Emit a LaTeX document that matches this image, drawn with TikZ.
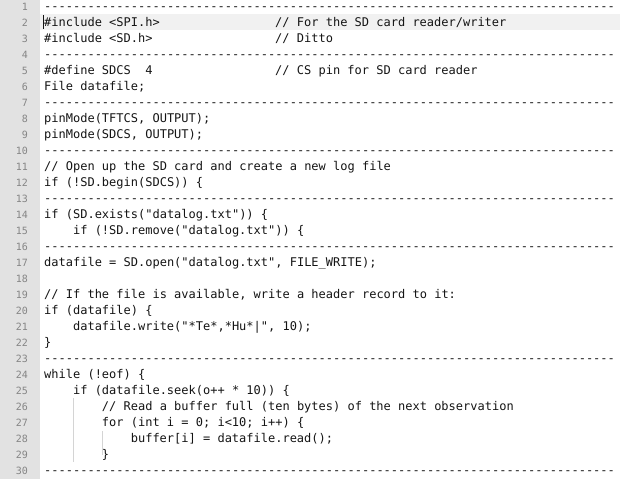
\documentclass[tikz,border=0pt]{standalone}
\usepackage{fontspec}
\setmonofont{DejaVu Sans Mono}

\definecolor{gutter}{HTML}{E2E2E2}
\definecolor{curline}{HTML}{F1F1F1}
\definecolor{guide}{HTML}{D4D4D4}
\definecolor{ink}{HTML}{141414}
\definecolor{lnum}{HTML}{858585}
\newcommand{\dashrow}{-------------------------------------------------------------------------------}

\begin{document}
\begin{tikzpicture}[x=1pt,y=1pt,
                    code/.style={anchor=base west,inner sep=0pt,text=ink,font=\ttfamily\fontsize{12}{14}\selectfont},
                    lno/.style={anchor=base east,inner sep=0pt,text=lnum,font=\ttfamily\fontsize{10}{12}\selectfont},
                    src/.style={shift={(44pt,-10.5pt)},x=7.22pt,y=-16pt}]

\useasboundingbox (0,0) rectangle (620,-479);
\clip (0,0) rectangle (620,-479);
\fill[gutter] (0,0) rectangle (40,-479);
\fill[curline] (40,-14) rectangle (620,-30);
\draw[guide] (73,-398) -- (73,-462);
\draw[guide] (102,-431) -- (102,-455);
\draw[ink,line width=0.8pt] (43.5,-15) -- (43.5,-29);

\foreach \n in {1,...,30}
  \node[lno] (num\n) at (28,{-10.5-16*(\n-1)}) {\n};

\begin{scope}[src]
\foreach \r in {1,4,7,10,13,16,23,30}
  \node[code] (rule\r) at (0,\r-1) {\dashrow};
\node[code] (l2) at (0,1) {\#include <SPI.h>};
\node[code] (c2) at (32,1) {// For the SD card reader/writer};
\node[code] (l3) at (0,2) {\#include <SD.h>};
\node[code] (c3) at (32,2) {// Ditto};
\node[code] (l5) at (0,4) {\#define SDCS\ \ 4};
\node[code] (c5) at (32,4) {// CS pin for SD card reader};
\node[code] (l6) at (0,5) {File datafile;};
\node[code] (l8) at (0,7) {pinMode(TFTCS, OUTPUT);};
\node[code] (l9) at (0,8) {pinMode(SDCS, OUTPUT);};
\node[code] (l11) at (0,10) {// Open up the SD card and create a new log file};
\node[code] (l12) at (0,11) {if (!SD.begin(SDCS)) \{};
\node[code] (l14) at (0,13) {if (SD.exists("datalog.txt")) \{};
\node[code] (l15) at (4,14) {if (!SD.remove("datalog.txt")) \{};
\node[code] (l17) at (0,16) {datafile = SD.open("datalog.txt", FILE\_WRITE);};
\node[code] (l19) at (0,18) {// If the file is available, write a header record to it:};
\node[code] (l20) at (0,19) {if (datafile) \{};
\node[code] (l21) at (4,20) {datafile.write("*Te*,*Hu*|", 10);};
\node[code] (l22) at (0,21) {\}};
\node[code] (l24) at (0,23) {while (!eof) \{};
\node[code] (l25) at (4,24) {if (datafile.seek(o++ * 10)) \{};
\node[code] (l26) at (8,25) {// Read a buffer full (ten bytes) of the next observation};
\node[code] (l27) at (8,26) {for (int i = 0; i<10; i++) \{};
\node[code] (l28) at (12,27) {buffer[i] = datafile.read();};
\node[code] (l29) at (8,28) {\}};
\end{scope}
\end{tikzpicture}
\end{document}
